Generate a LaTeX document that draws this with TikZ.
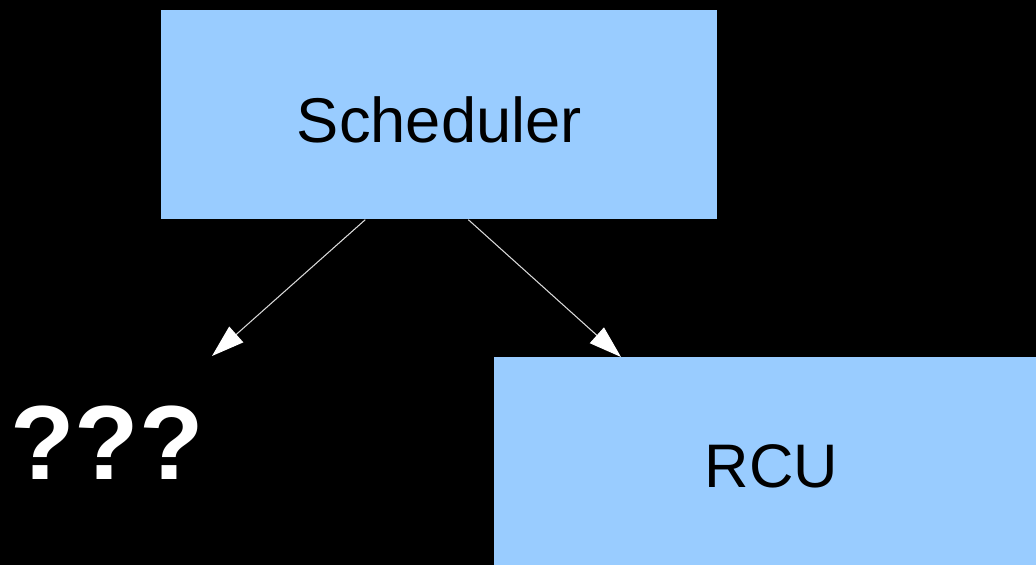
\documentclass[tikz,border=0pt]{standalone}
\usepackage{fontspec}
\setmainfont{Liberation Sans}
\usetikzlibrary{arrows.meta, positioning}

\begin{document}
\begin{tikzpicture}[
    x=0.02cm, y=-0.02cm,
    block/.style={rectangle, draw=none, fill=blueBox, inner sep=0pt, anchor=north west},
    arrow/.style={-{Triangle[length=0.65cm, width=0.42cm, fill=white, color=white]}, line width=0.6pt, draw=white!85!black},
]
\definecolor{blueBox}{HTML}{99CCFF}

% ==== Background ====
\useasboundingbox (0,0) rectangle (1036,565);
\fill[black] (0,0) rectangle (1036,565);

% ==== Blocks ====
\node[block, minimum width=11.12cm, minimum height=4.18cm, text height=1.1cm, text depth=0cm, font=\fontsize{36}{40}\selectfont] (sched) at (161,10) {Scheduler};
\begin{scope}
  \clip (0,0) rectangle (1036,565);
  \node[block, minimum width=11.08cm, minimum height=4.36cm, font=\fontsize{35}{40}\selectfont] (rcu) at (494,357) {RCU};
\end{scope}

% ==== Unknown ====
\node[text=white, font=\bfseries\fontsize{60}{62}\selectfont, inner sep=0pt] (unknown) at (107,443) {???};

% ==== Relations ====
\coordinate (qtip) at (212,356);
\coordinate (rtip) at (621,357);
\draw[arrow] ([xshift=-1.48cm]sched.south) -- (qtip);
\draw[arrow] ([xshift=0.58cm]sched.south) -- (rtip);

\end{tikzpicture}
\end{document}
